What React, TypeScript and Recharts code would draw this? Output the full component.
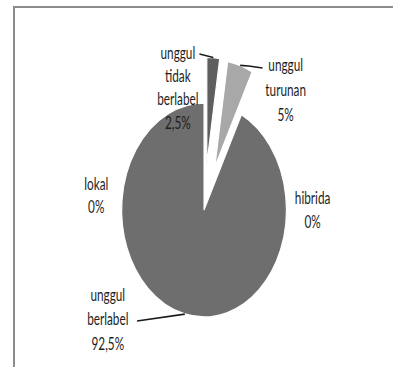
import React from 'react';
import { PieChart, Pie, Cell, Sector } from 'recharts';

// ---- data ----
const categories = ['unggul tidak berlabel', 'unggul turunan', 'hibrida', 'unggul berlabel', 'lokal'];
const shares = [2.5, 5, 0, 92.5, 0];
const labelLines = [['unggul', 'tidak', 'berlabel'], ['unggul', 'turunan'], ['hibrida'], ['unggul', 'berlabel'], ['lokal']];

const data = categories.map((name, i) => ({ name, value: shares[i] }));

// ---- presentation ----
const COLORS: Record<string, string> = {
  'unggul tidak berlabel': '#5e5e5e',
  'unggul turunan': '#a8a8a8',
  hibrida: '#6e6e6e',
  'unggul berlabel': '#6e6e6e',
  lokal: '#6e6e6e',
};
const EXPLODE: Record<string, number> = { 'unggul tidak berlabel': 46, 'unggul turunan': 45 };
const LABEL_LAYOUT: Record<string, { dx: number; dy: number[]; leader?: [number, number][] }> = {
  'unggul tidak berlabel': { dx: -34, dy: [-157, -134, -111, -87], leader: [[-6, -156]] },
  'unggul turunan': { dx: 106, dy: [-145, -120, -95], leader: [[58, -144], [76, -142]] },
  hibrida: { dx: 141, dy: [-12, 12] },
  'unggul berlabel': { dx: -125, dy: [85, 109, 134], leader: [[-87, 111]] },
  lokal: { dx: -140, dy: [-26, -3] },
};

const RAD = Math.PI / 180;
const SX = 0.77;
const TEXT_SX = 0.9;
const W = 510;
const H = 367;

const fmt = (v: number) => String(v).replace('.', ',') + '%';

const SliceShape = (props: any) => {
  const { cx, cy, midAngle } = props;
  const name = props.payload?.name ?? props.name;
  const d = EXPLODE[name] ?? 0;
  const ox = d * Math.cos(-midAngle * RAD);
  const oy = d * Math.sin(-midAngle * RAD);
  return <Sector {...props} cx={cx + ox} cy={cy + oy} />;
};

const renderLabel = (props: any) => {
  const { cx, cy, midAngle, outerRadius, index } = props;
  const name = categories[index];
  const layout = LABEL_LAYOUT[name];
  if (!layout) return null;
  const lines = [...labelLines[index], fmt(shares[index])];
  const d = (EXPLODE[name] ?? 0) + outerRadius;
  const ax = cx + d * Math.cos(-midAngle * RAD);
  const ay = cy + d * Math.sin(-midAngle * RAD);
  const pts = layout.leader
    ? [[ax, ay], ...layout.leader.map(([x, y]) => [cx + x, cy + y])].map((p) => p.join(',')).join(' ')
    : null;
  const tx = cx + layout.dx;
  return (
    <g>
      {pts && <polyline points={pts} fill="none" stroke="#1a1a1a" strokeWidth={1.7} />}
      <g transform={`translate(${tx},0) scale(${TEXT_SX},1) translate(${-tx},0)`}>
        <text
          textAnchor="middle"
          fontFamily="Lato, 'Open Sans', sans-serif"
          fontSize={17}
          fill="#1e1e1e"
        >
          {lines.map((ln, i) => (
            <tspan key={i} x={tx} y={cy + layout.dy[i]} dominantBaseline="central">
              {ln}
            </tspan>
          ))}
        </text>
      </g>
    </g>
  );
};

export default function App() {
  return (
    <div style={{ position: 'absolute', left: 0, top: 0, width: 393, height: 367, background: '#fff', overflow: 'hidden' }}>
      <div
        style={{
          position: 'absolute',
          left: 13,
          top: 6,
          right: 0,
          bottom: 0,
          borderTop: '2px solid #8c8c8c',
          borderLeft: '2px solid #8c8c8c',
        }}
      />
      <div style={{ position: 'absolute', left: 0, top: 0, transform: `scaleX(${SX})`, transformOrigin: '0 0' }}>
        <PieChart width={W} height={H} margin={{ top: 0, right: 0, bottom: 0, left: 0 }}>
          <Pie
            data={data}
            dataKey="value"
            nameKey="name"
            cx={265}
            cy={210}
            outerRadius={107}
            startAngle={90}
            endAngle={-270}
            stroke="#ffffff"
            strokeWidth={1.5}
            shape={SliceShape}
            label={renderLabel}
            labelLine={false}
            isAnimationActive={false}
          >
            {data.map((d) => (
              <Cell key={d.name} fill={COLORS[d.name]} />
            ))}
          </Pie>
        </PieChart>
      </div>
    </div>
  );
}
